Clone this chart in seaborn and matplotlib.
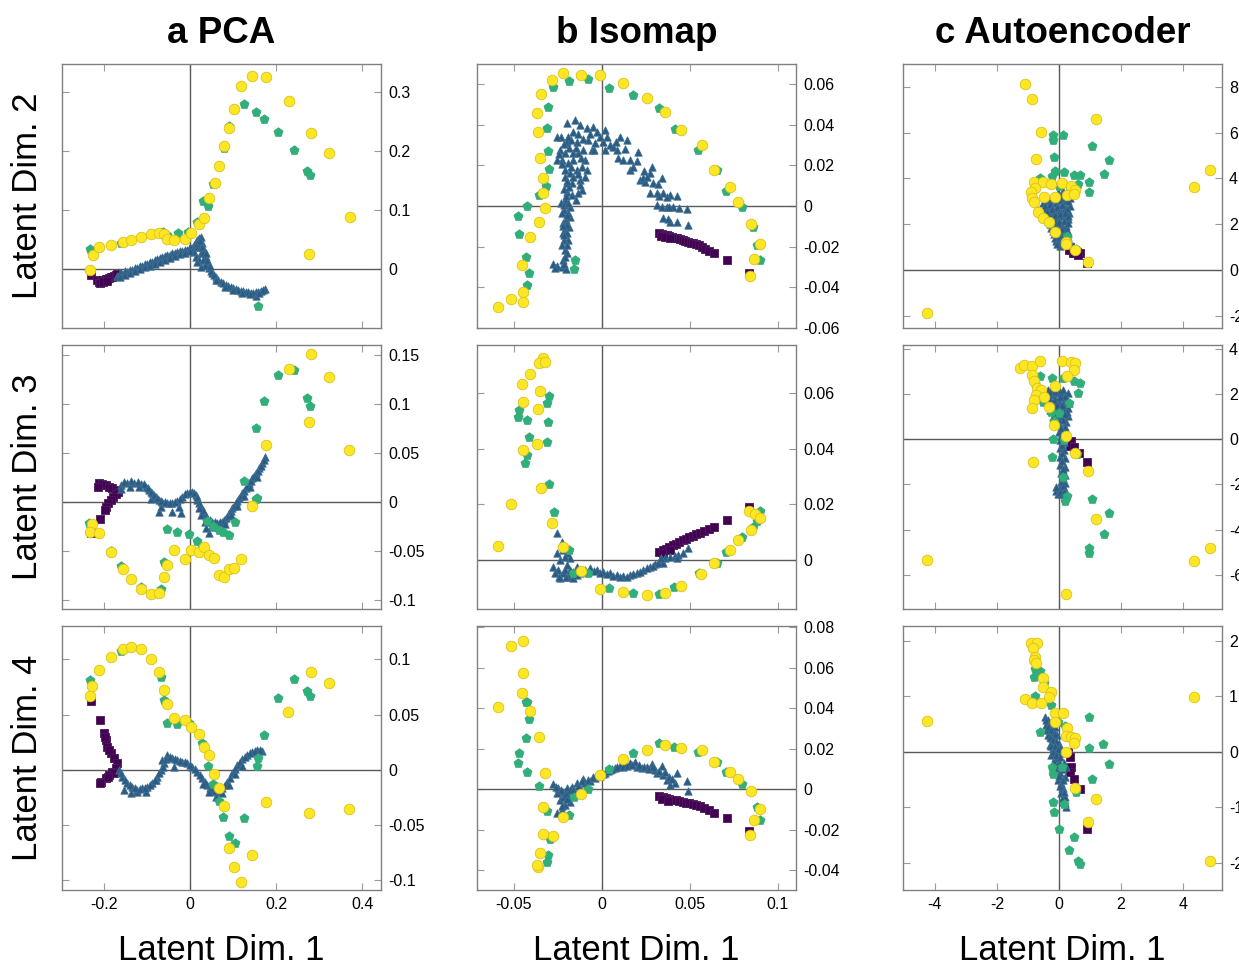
import matplotlib
matplotlib.use("Agg")
import matplotlib.pyplot as plt
import seaborn as sns
import pandas as pd
from matplotlib.ticker import FormatStrFormatter, FixedLocator

# ---------------- data (x, y) per panel and class ----------------
# classes: sq = purple squares, tri = blue triangles, pent = green pentagons, circ = yellow circles

# PCA, Latent Dim. 2
pca_d2_sq = [(-0.231,-0.0096),(-0.2155,-0.018),(-0.2116,-0.021),(-0.2078,-0.0198),(-0.2039,-0.018),(-0.2,-0.0192),
             (-0.1961,-0.017),(-0.1922,-0.0164),(-0.1884,-0.0153),(-0.1845,-0.0136),(-0.1806,-0.0124),(-0.1767,-0.0113),
             (-0.1729,-0.0096),(-0.169,-0.0079),(-0.2093,-0.0226),(-0.2016,-0.022),(-0.1938,-0.0203)]
pca_d2_tri = [(-0.169,-0.0113),(-0.1574,-0.0079),(-0.1457,-0.0045),(-0.1341,-0.0011),(-0.1225,0.0023),(-0.1109,0.0062),
              (-0.0992,0.0096),(-0.0876,0.013),(-0.076,0.0169),(-0.0643,0.0203),(-0.0527,0.0237),(-0.0411,0.0271),
              (-0.0295,0.0299),(-0.0178,0.0316),(-0.0062,0.0328),(0.0054,0.0356),(0.0093,0.0412),(0.0132,0.0469),
              (0.0171,0.0497),(0.0209,0.0525),(0.0248,0.0554),(0.0171,0.0384),(0.0093,0.0299),(0.0132,0.0215),
              (0.0209,0.0158),(0.0287,0.0441),(0.0326,0.0328),(0.0364,0.0215),(0.0403,0.0102),(0.0442,0.0017),
              (0.0519,-0.0068),(0.0597,-0.0136),(0.0713,-0.0209),(0.0829,-0.0266),(0.0946,-0.0305),(0.1062,-0.0339),
              (0.1178,-0.0362),(0.1295,-0.0384),(0.1411,-0.0395),(0.1527,-0.039),(0.1643,-0.0362),(0.1736,-0.0339),
              (0.0233,0.0384),(0.0264,0.0271),(0.031,0.0158),(0.0341,0.0073),(0.0248,0.0045),(0.0171,0.013),
              (0.1527,-0.0446)]
pca_d2_tri_b = [(-0.163,-0.0067),(-0.151,-0.0034),(-0.14,-0.0004),(-0.128,0.0028),(-0.117,0.0058),(-0.105,0.0091),
                (-0.093,0.0123),(-0.082,0.0153),(-0.07,0.0186),(-0.058,0.0218),(-0.047,0.0248),(-0.035,0.0281),
                (-0.024,0.0311),(-0.012,0.0334),(0.0,0.0372),(-0.163,-0.0127),(-0.151,-0.0094),(-0.14,-0.0064),
                (-0.128,-0.0032),(-0.117,-0.0002),(-0.105,0.0031),(-0.093,0.0063),(-0.082,0.0093),(-0.07,0.0126),
                (-0.058,0.0158),(-0.047,0.0188),(-0.035,0.0221),(-0.024,0.0251),(-0.012,0.0284),(0.0,0.0312),
                (0.048,-0.003),(0.0558,-0.0104),(0.0655,-0.0175),(0.077,-0.024),(0.0887,-0.0288),(0.1004,-0.0324),
                (0.112,-0.0352),(0.1237,-0.0375),(0.1353,-0.0392),(0.147,-0.0395),(0.1585,-0.0378),(0.169,-0.035),
                (0.06,-0.0175),(0.08,-0.0295),(0.1,-0.0355),(0.12,-0.04),(0.14,-0.042),(0.16,-0.041),
                (0.015,0.044),(0.022,0.048),(0.028,0.038),(0.03,0.028),(0.036,0.028),(0.039,0.016),(0.046,0.006)]
pca_d2_pent = [(-0.233,0.034),(-0.161,0.044),(-0.064,0.063),(-0.054,0.058),(-0.029,0.061),(-0.004,0.064),(0.017,0.081),
               (0.029,0.116),(0.041,0.108),(0.054,0.144),(0.078,0.206),(0.091,0.243),(0.126,0.280),(0.154,0.267),
               (0.173,0.255),(0.205,0.233),(0.241,0.202),(0.273,0.167),(0.279,0.159),(0.157,-0.062)]
pca_d2_circ = [(-0.233,-0.001),(-0.227,0.024),(-0.212,0.037),(-0.183,0.041),(-0.157,0.046),(-0.138,0.049),(-0.114,0.054),
               (-0.091,0.059),(-0.072,0.062),(-0.060,0.059),(-0.053,0.052),(-0.037,0.050),(-0.012,0.051),(0.002,0.061),
               (0.020,0.077),(0.033,0.087),(0.044,0.121),(0.057,0.147),(0.067,0.175),(0.078,0.209),(0.091,0.239),
               (0.102,0.271),(0.119,0.310),(0.145,0.328),(0.177,0.326),(0.229,0.286),(0.281,0.231),(0.324,0.197),
               (0.371,0.089),(0.277,0.026)]

# PCA, Latent Dim. 3
pca_d3_sq = [(-0.2116,0.0201),(-0.2039,0.0187),(-0.1961,0.0173),(-0.1884,0.016),(-0.1806,0.0143),(-0.1729,0.0126),
             (-0.1674,0.0109),(-0.1729,0.0085),(-0.1783,0.0058),(-0.1845,0.0024),(-0.1899,-0.001),(-0.1946,-0.0044),
             (-0.1984,-0.0078),(-0.2101,-0.017),(-0.231,-0.031),(-0.214,0.016)]
pca_d3_tri = [(-0.1612,0.0177),(-0.1457,0.0194),(-0.1302,0.0201),(-0.1147,0.0187),(-0.1031,0.016),(-0.0953,0.0126),
              (-0.0876,0.0092),(-0.0798,0.0058),(-0.0721,0.0024),(-0.0643,0.0007),(-0.0527,-0.001),(-0.0411,-0.0003),
              (-0.0295,0.0014),(-0.0178,0.0058),(-0.0062,0.0092),(0.0054,0.0109),(0.0132,0.0075),(0.0171,0.0024),
              (0.0248,-0.0044),(0.0326,-0.0112),(0.0403,-0.0163),(0.0519,-0.0197),(0.0636,-0.0207),(0.0752,-0.0197),
              (0.0829,-0.0163),(0.0907,-0.0112),(0.0984,-0.0061),(0.1062,-0.001),(0.114,0.0041),(0.1217,0.0092),
              (0.1295,0.0143),(0.1372,0.0194),(0.145,0.0245),(0.1527,0.0296),(0.1605,0.0347),(0.1682,0.0405),
              (0.1736,0.0459),(-0.0915,0.0031),(-0.0721,-0.0095),(-0.0682,-0.0044),(-0.0411,-0.0095),(-0.0217,-0.0112),
              (-0.0256,-0.0044),(0.0364,-0.0265),(0.0442,-0.031),(0.0558,-0.0248),(0.0248,-0.0129)]
pca_d3_tri_b = [(-0.153,0.021),(-0.138,0.0215),(-0.122,0.0205),(-0.108,0.0185),(-0.099,0.015),(-0.091,0.011),
                (-0.084,0.0075),(-0.076,0.004),(-0.068,0.0018),(-0.058,0.0),(-0.047,-0.0005),(-0.035,0.0005),
                (-0.024,0.0035),(-0.012,0.008),(0.0,0.0105),(0.009,0.0095),(0.015,0.005),(0.021,-0.001),
                (0.029,-0.008),(0.036,-0.014),(0.046,-0.0185),(0.058,-0.0205),(0.069,-0.0205),(0.079,-0.018),
                (0.087,-0.014),(0.094,-0.0087),(0.102,-0.0035),(0.11,0.0015),(0.118,0.0066),(0.125,0.0117),
                (0.133,0.0168),(0.141,0.022),(0.149,0.027),(0.157,0.032),(0.164,0.0375),(0.171,0.043),
                (-0.16,0.014),(-0.14,0.016),(-0.12,0.016),(0.02,-0.006),(0.035,-0.02),(0.05,-0.024),(0.065,-0.025),
                (0.08,-0.022),(0.095,-0.013),(0.11,-0.004),(0.125,0.006),(0.14,0.016),(0.155,0.026)]
pca_d3_pent = [(0.2047,0.1303),(0.2411,0.135),(0.1721,0.1034),(0.2729,0.1061),(0.2791,0.0986),(0.1543,0.0762),
               (0.1248,0.0214),(0.1566,0.0048),(0.1543,0.0031),(-0.2341,-0.0214),(-0.1845,-0.0493),(-0.1612,-0.0646),
               (-0.1147,-0.0864),(-0.0682,-0.0888),(-0.0605,-0.0605),(-0.0535,-0.0269),(-0.0295,-0.0306),
               (-0.0023,-0.0327),(0.0171,-0.0398),(0.0287,-0.0452),(0.0403,-0.019),(0.0543,-0.0238),(0.0667,-0.0282),
               (0.0767,-0.0299),(0.0907,-0.0333),(0.1047,-0.0204)]
pca_d3_circ = [(0.2806,0.151),(0.2295,0.1364),(0.324,0.1276),(0.2767,0.0816),(0.1767,0.0582),(0.3705,0.0534),
               (0.145,-0.0034),(-0.2271,-0.0221),(-0.2326,-0.0299),(-0.2116,-0.0316),(-0.183,-0.051),(-0.1558,-0.0684),
               (-0.138,-0.0782),(-0.114,-0.0888),(-0.0907,-0.0935),(-0.0713,-0.0929),(-0.0605,-0.0759),
               (-0.0527,-0.0636),(-0.0372,-0.049),(-0.0124,-0.0578),(0.0016,-0.0483),(0.0209,-0.0503),(0.0333,-0.0459),
               (0.0434,-0.0537),(0.0558,-0.0571),(0.0667,-0.0745),(0.0791,-0.0765),(0.0907,-0.0684),(0.1023,-0.0673),
               (0.1186,-0.0578)]

# PCA, Latent Dim. 4
pca_d4_sq = [(-0.231,0.0624),(-0.2101,0.0452),(-0.2,0.0332),(-0.1961,0.0271),(-0.1922,0.0211),(-0.1845,0.0151),
             (-0.1767,0.0106),(-0.169,0.006),(-0.1729,0.0015),(-0.1806,-0.0015),(-0.1884,-0.0045),(-0.1961,-0.0075),
             (-0.2062,-0.0106),(-0.2101,-0.0121),(-0.198,0.030),(-0.188,0.018),(-0.178,-0.003),(-0.192,-0.006)]
pca_d4_tri = [(-0.1651,0.0),(-0.1574,-0.006),(-0.1457,-0.0121),(-0.1341,-0.0151),(-0.1225,-0.0181),(-0.1109,-0.0166),
              (-0.0992,-0.0151),(-0.0876,-0.0121),(-0.076,-0.006),(-0.0682,0.0),(-0.0605,0.006),(-0.0527,0.0136),
              (-0.0411,0.0106),(-0.0295,0.009),(-0.0178,0.0075),(-0.0062,0.006),(0.0054,0.003),(0.0171,-0.0015),
              (0.0287,-0.0075),(0.0403,-0.0136),(0.0519,-0.0181),(0.0636,-0.0196),(0.0752,-0.0166),(0.0868,-0.0106),
              (0.0984,-0.003),(0.1101,0.0045),(0.1217,0.0097),(0.1333,0.0136),(0.145,0.0166),(0.1566,0.0181),
              (0.1682,0.0175),(-0.1535,-0.0181),(-0.138,-0.0211),(-0.1225,-0.0196),(-0.1031,-0.0196),(-0.0798,-0.009),
              (-0.0643,0.009),(-0.0372,0.003)]
pca_d4_tri_b = [(-0.161,-0.003),(-0.151,-0.009),(-0.14,-0.0135),(-0.128,-0.0166),(-0.117,-0.0175),(-0.105,-0.016),
                (-0.093,-0.0135),(-0.082,-0.009),(-0.072,-0.003),(-0.064,0.003),(-0.057,0.01),(-0.047,0.012),
                (-0.035,0.0098),(-0.024,0.0083),(-0.012,0.0068),(0.0,0.0045),(0.011,0.0008),(0.023,-0.0045),
                (0.035,-0.0105),(0.046,-0.016),(0.058,-0.019),(0.07,-0.0185),(0.081,-0.0136),(0.093,-0.0068),
                (0.104,0.0008),(0.116,0.0072),(0.127,0.0118),(0.139,0.0152),(0.151,0.0175),(0.162,0.018),
                (0.03,-0.013),(0.045,-0.02),(0.06,-0.024),(0.075,-0.021),(0.09,-0.014),(0.105,-0.004),(0.12,0.004)]
pca_d4_pent = [(-0.2333,0.0814),(-0.1612,0.1077),(-0.0667,0.0845),(-0.0605,0.0633),(-0.0535,0.0428),(-0.0295,0.0419),
               (-0.0023,0.0422),(0.0279,0.0241),(0.0411,0.0039),(0.0543,-0.0127),(0.0667,-0.0284),(0.0775,-0.0425),
               (0.0907,-0.06),(0.1047,-0.0658),(0.1256,-0.0434),(0.1721,0.0317),(0.1574,0.0112),(0.155,0.0036),
               (0.2047,0.0655),(0.2411,0.0827),(0.2729,0.0712),(0.2791,0.0667)]
pca_d4_circ = [(-0.2326,0.067),(-0.2271,0.076),(-0.2116,0.0905),(-0.183,0.102),(-0.1558,0.1092),(-0.138,0.111),
               (-0.114,0.1092),(-0.0907,0.1005),(-0.0713,0.089),(-0.0605,0.0724),(-0.0527,0.0594),(-0.0372,0.0468),
               (-0.0124,0.0456),(0.0016,0.0386),(0.0202,0.0329),(0.0333,0.0211),(0.0442,0.0139),(0.0558,-0.0033),
               (0.0667,-0.016),(0.0791,-0.0329),(0.0907,-0.0706),(0.1016,-0.0881),(0.1186,-0.1017),(0.145,-0.0772),
               (0.1767,-0.0293),(0.2287,0.0528),(0.2814,0.0887),(0.324,0.0787),(0.2767,-0.0389),(0.3705,-0.0353)]

# Isomap, Latent Dim. 2
iso_d2_sq = [(0.0328,-0.0131),(0.0341,-0.0138),(0.0356,-0.0141),(0.0369,-0.0144),(0.0384,-0.0147),(0.0400,-0.0151),
             (0.0415,-0.0156),(0.043,-0.0159),(0.0445,-0.0162),(0.046,-0.0167),(0.0475,-0.0172),(0.0491,-0.0175),
             (0.0506,-0.018),(0.0521,-0.0183),(0.0536,-0.0188),(0.0551,-0.0193),(0.057,-0.0203),(0.0589,-0.0213),
             (0.0612,-0.0221),(0.064,-0.0229),(0.071,-0.0265),(0.0839,-0.0328),(0.0335,-0.0147),(0.036,-0.0152),
             (0.0388,-0.0159)]
iso_d2_tri = [(-0.0275,-0.0285),(-0.0252,-0.0295),(-0.0227,-0.0301),(-0.0203,-0.0311),(-0.0218,-0.0265),(-0.0208,-0.0216),
              (-0.0212,-0.0167),(-0.0208,-0.0118),(-0.0205,-0.0069),(-0.0212,-0.002),(-0.0227,-0.0036),(-0.0233,0.0013),
              (-0.0208,0.0029),(-0.0199,0.007),(-0.0199,0.0111),(-0.018,0.0161),(-0.0189,0.021),(-0.0161,0.0226),
              (-0.0142,0.0177),(-0.0123,0.0128),(-0.0114,0.0079),(-0.0133,0.0062),(-0.0146,0.0029),(-0.017,0.0054),
              (-0.018,-0.0003),(-0.018,-0.0052),(-0.0184,-0.0102),(-0.0189,-0.0167),(-0.0195,-0.0233),(-0.0237,0.0275),
              (-0.0208,0.0259),(-0.0199,0.0316),(-0.0233,0.0341),(-0.0252,0.0341),(-0.0199,0.0406),(-0.0161,0.0365),
              (-0.0123,0.0398),(-0.0085,0.0382),(-0.0142,0.0316),(-0.0104,0.0275),(-0.0095,0.0226),(-0.0076,0.0324),
              (-0.0047,0.039),(-0.0038,0.0308),(-0.0009,0.0341),(-0.0057,0.0275),(-0.0085,0.0177),(-0.0095,0.0144),
              (-0.0114,0.0193),(-0.0256,0.0226),(-0.0227,0.0226),(0.0019,0.0373),(0.0009,0.0316),(0.0019,0.0275),
              (0.0047,0.03),(0.0066,0.0288),(0.0104,0.0337),(0.0142,0.0324),(0.0095,0.0234),(0.0123,0.0226),
              (0.0161,0.0177),(0.018,0.0193),(0.0208,0.0267),(0.0218,0.0128),(0.0237,0.0136),(0.0275,0.0161),
              (0.0284,0.0193),(0.0246,0.012),(0.0275,0.0062),(0.0313,0.0066),(0.0341,0.0136),(0.035,0.0062),
              (0.0388,0.0054),(0.043,0.0049),(0.0313,0.0005),(0.0341,-0.0003),(0.0369,-0.0003),(0.0407,-0.0003),
              (0.0483,-0.0016),(0.035,-0.0061),(0.0388,-0.0077),(0.0426,-0.0077),(0.0492,-0.0093),
              (-0.0222,-0.0134),(-0.0195,-0.0134),(-0.0218,-0.0085),(-0.0189,-0.0036),(-0.0208,0.0144),(-0.017,0.0111),
              (-0.0161,0.0259),(-0.0133,0.0259),(-0.0189,0.0341),(-0.0152,0.0423)]
iso_d2_tri_b = [(-0.0265,-0.0305),(-0.0215,-0.0285),(-0.021,-0.025),(-0.0225,-0.019),(-0.0195,-0.019),(-0.0215,-0.0145),
                (-0.0195,-0.0095),(-0.022,-0.01),(-0.0195,-0.0045),(-0.0215,0.0005),(-0.019,0.0015),(-0.0205,0.005),
                (-0.0215,0.0085),(-0.0185,0.0095),(-0.0195,0.0125),(-0.016,0.014),(-0.021,0.0175),(-0.0175,0.019),
                (-0.0135,0.0155),(-0.0125,0.0105),(-0.0225,0.0205),(-0.0245,0.0255),(-0.0185,0.0285),(-0.0145,0.0285),
                (-0.0115,0.0235),(-0.0175,0.0325),(-0.0215,0.0305),(-0.0135,0.0355),(-0.0105,0.033),(-0.0065,0.0355),
                (-0.0025,0.0365),(-0.0045,0.0275),(0.003,0.034),(0.008,0.0315),(0.0085,0.0275),(0.013,0.028),
                (0.016,0.0225),(0.02,0.022),(0.024,0.017),(0.0255,0.014),(0.029,0.0115),(0.032,0.011),(0.0325,0.005),
                (0.037,0.0045),(0.0385,-0.0005),(0.044,-0.0008),(0.0375,-0.0065)]
iso_d2_pent = [(-0.0477,-0.0051),(-0.0426,0.0),(-0.047,-0.0138),(-0.043,-0.0249),(-0.0415,-0.0331),(-0.0426,-0.0388),
               (-0.0358,0.0056),(-0.0314,0.01),(-0.0299,0.0183),(-0.0307,0.0272),(-0.0313,0.0383),(-0.0303,0.0485),
               (-0.0275,0.0583),(-0.0186,0.0616),(-0.0078,0.0626),(0.0044,0.058),(0.018,0.0545),(0.0326,0.048),
               (0.0415,0.0377),(0.0547,0.0275),(0.0653,0.0177),(0.0706,0.0075),(0.0795,-0.0005),(0.0858,-0.0102),
               (0.0881,-0.0193),(0.09,-0.0265),(-0.0152,-0.0267),(-0.0157,-0.0308)]
iso_d2_circ = [(-0.0589,-0.0498),(-0.0513,-0.0457),(-0.0445,-0.0421),(-0.0445,-0.0473),(-0.0453,-0.029),(-0.0405,-0.0151),
               (-0.0354,-0.0079),(-0.0324,-0.0011),(-0.0333,0.0062),(-0.0331,0.0139),(-0.0352,0.0234),(-0.0364,0.0364),
               (-0.0369,0.0455),(-0.0345,0.055),(-0.028,0.0618),(-0.0218,0.0652),(-0.0117,0.0645),(-0.0011,0.0644),
               (0.0123,0.0603),(0.0256,0.0529),(0.0362,0.0464),(0.0449,0.0373),(0.0568,0.03),(0.0636,0.0177),
               (0.0731,0.0095),(0.0773,0.0018),(0.085,-0.009),(0.09,-0.0188),(0.0867,-0.0262),(0.0843,-0.0344)]

# Isomap, Latent Dim. 3
iso_d3_sq = [(0.0328,0.0029),(0.0347,0.0034),(0.0366,0.004),(0.0384,0.0046),(0.0403,0.0052),(0.0422,0.0058),
             (0.0441,0.0064),(0.046,0.007),(0.0479,0.0076),(0.0498,0.0082),(0.0517,0.0087),(0.0536,0.0092),
             (0.0559,0.0096),(0.0583,0.0104),(0.0612,0.0111),(0.064,0.0118),(0.071,0.0142),(0.0839,0.019),
             (0.035,0.0024),(0.0388,0.0036)]
iso_d3_tri = [(-0.0252,0.0096),(-0.0227,0.0066),(-0.0218,0.0036),(-0.0199,0.0024),(-0.018,0.0006),(-0.0275,-0.0024),
              (-0.0246,-0.0036),(-0.0218,-0.0048),(-0.0189,-0.006),(-0.0161,-0.0066),(-0.0123,-0.0048),(-0.0095,-0.0036),
              (-0.0237,0.0),(-0.0199,-0.0018),(-0.0142,-0.0024),(-0.0066,-0.003),(-0.0028,-0.0036),(0.0009,-0.0042),
              (0.0047,-0.0048),(0.0085,-0.0054),(0.0123,-0.0058),(0.0161,-0.0054),(0.0199,-0.0046),(0.0237,-0.0036),
              (0.0275,-0.0024),(0.0303,-0.0014),(0.0331,0.0),(0.036,0.0006),(0.0388,0.0012),(0.0417,0.0014),
              (0.0436,0.0018),(0.0464,0.0024),(0.0492,0.0042),(0.0426,0.0006),(0.035,-0.0012),(-0.0265,-0.0048),
              (-0.0237,-0.0066),(-0.0208,-0.0036),(-0.018,-0.0036),(-0.0152,-0.0042),(-0.0256,0.0024),(-0.0208,0.0012)]
iso_d3_tri_b = [(-0.0245,-0.006),(-0.0205,-0.0062),(-0.0175,-0.0052),(-0.014,-0.0055),(-0.011,-0.004),(-0.008,-0.0045),
                (-0.0045,-0.004),(-0.001,-0.0048),(0.003,-0.0052),(0.0065,-0.0058),(0.0105,-0.0062),(0.0145,-0.006),
                (0.018,-0.0052),(0.022,-0.0044),(0.0255,-0.003),(0.029,-0.0022),(0.032,-0.001),(0.034,0.0008)]
iso_d3_pent = [(-0.0297,0.059),(-0.0313,0.0564),(-0.0468,0.0539),(-0.0477,0.0515),(-0.0426,0.0504),(-0.0305,0.0498),
               (-0.0415,0.0444),(-0.0313,0.0426),(-0.0422,0.0377),(-0.0434,0.035),(-0.0301,0.0274),(-0.0273,0.0171),
               (-0.0188,0.0036),(-0.0161,-0.0048),(-0.008,-0.0046),(0.0044,-0.0102),(0.018,-0.0121),(0.0324,-0.0123),
               (0.0413,-0.0096),(0.0551,-0.0048),(0.0653,-0.001),(0.0706,0.003),(0.0795,0.0082),(0.0858,0.0118),
               (0.0881,0.0141),(0.09,0.0175)]
iso_d3_circ = [(-0.0335,0.0727),(-0.0354,0.0709),(-0.0322,0.0711),(-0.0405,0.0668),(-0.0453,0.0634),(-0.0352,0.061),
               (-0.0445,0.0568),(-0.0364,0.0542),(-0.0369,0.0418),(-0.0447,0.0394),(-0.0347,0.026),(-0.0513,0.0203),
               (-0.0587,0.0051),(-0.028,0.0134),(-0.0218,0.0046),(-0.0117,-0.0039),(-0.0011,-0.0105),(0.0123,-0.0115),
               (0.0256,-0.0127),(0.0362,-0.0121),(0.0449,-0.0094),(0.0566,-0.0052),(0.0636,-0.001),(0.0731,0.0036),
               (0.0773,0.0072),(0.0848,0.0106),(0.0839,0.0176),(0.0869,0.0165),(0.09,0.0151)]

# Isomap, Latent Dim. 4
iso_d4_sq = [(0.0328,-0.0033),(0.0347,-0.004),(0.0366,-0.0044),(0.0384,-0.0048),(0.0403,-0.0051),(0.0422,-0.0054),
             (0.0441,-0.0058),(0.046,-0.0061),(0.0479,-0.0066),(0.0498,-0.0069),(0.0517,-0.0074),(0.0536,-0.0077),
             (0.0559,-0.0084),(0.0583,-0.0091),(0.0612,-0.01),(0.064,-0.0115),(0.071,-0.0142),(0.0839,-0.0207),
             (0.0341,-0.0049),(0.0379,-0.0056)]
iso_d4_tri = [(-0.0275,0.0026),(-0.0246,0.0005),(-0.0218,-0.0012),(-0.0189,-0.0028),(-0.0237,-0.0053),(-0.0208,-0.0077),
              (-0.0252,-0.0115),(-0.0227,-0.0102),(-0.018,-0.0061),(-0.0152,-0.002),(-0.0123,0.0005),(-0.0095,0.003),
              (-0.0066,0.0043),(-0.0038,0.0054),(-0.0009,0.0066),(0.0019,0.0082),(0.0047,0.0095),(0.0076,0.0107),
              (0.0104,0.0115),(0.0133,0.012),(0.0161,0.0128),(0.0189,0.0137),(0.0199,0.0112),(0.0227,0.0104),
              (0.0256,0.0112),(0.0284,0.0125),(0.0303,0.0095),(0.0313,0.0079),(0.0341,0.0115),(0.035,0.0071),
              (0.0369,0.0046),(0.0388,0.0021),(0.0417,0.003),(0.043,0.0079),(0.0483,0.0041),(0.0492,-0.0007),
              (-0.0142,0.003),(-0.0104,0.0049),(-0.017,0.0013),(-0.0199,0.0005),(-0.0256,-0.002),(-0.0218,-0.0036),
              (-0.018,-0.0003)]
iso_d4_tri_b = [(-0.026,0.001),(-0.023,-0.0005),(-0.0205,-0.0025),(-0.0225,-0.008),(-0.0195,-0.005),(-0.016,-0.0005),
                (-0.0135,0.0015),(-0.011,0.004),(-0.008,0.0048),(-0.005,0.006),(-0.002,0.0072),(0.0005,0.0075),
                (0.0035,0.0088),(0.006,0.01),(0.009,0.0108),(0.012,0.0112),(0.0145,0.0115),(0.0175,0.012),
                (0.021,0.0118),(0.024,0.011),(0.027,0.0102),(0.029,0.011),(0.0325,0.009),(0.036,0.0085),
                (0.038,0.006),(0.04,0.005)]
iso_d4_pent = [(-0.0432,0.043),(-0.0422,0.043),(-0.0415,0.0349),(-0.043,0.0255),(-0.047,0.0178),(-0.0477,0.0132),
               (-0.0426,0.0084),(-0.0356,0.0018),(-0.0313,-0.0107),(-0.0294,-0.0244),(-0.0303,-0.0324),(-0.0313,-0.036),
               (-0.0188,-0.0127),(-0.0155,-0.004),(-0.008,0.0),(0.0044,0.01),(0.018,0.0181),(0.0324,0.0227),
               (0.0413,0.0207),(0.0547,0.0186),(0.0653,0.0137),(0.0706,0.0086),(0.0795,0.0025),(0.0881,-0.0086),
               (0.09,-0.0151)]
iso_d4_circ = [(-0.0445,0.0734),(-0.0513,0.0708),(-0.0445,0.0576),(-0.0453,0.0476),(-0.0589,0.0407),(-0.0405,0.0387),
               (-0.0354,0.0258),(-0.0324,0.0079),(-0.0333,-0.0087),(-0.0331,-0.0219),(-0.0278,-0.0232),(-0.0352,-0.0316),
               (-0.0364,-0.0385),(-0.0369,-0.0374),(-0.0218,-0.0138),(-0.0117,-0.0025),(-0.0011,0.0071),(0.0123,0.0148),
               (0.0256,0.0194),(0.0362,0.0219),(0.0449,0.0202),(0.0568,0.0194),(0.0636,0.0137),(0.0731,0.0087),
               (0.0773,0.0049),(0.085,-0.0007),(0.09,-0.0099),(0.0867,-0.0151),(0.0843,-0.0226)]

# Autoencoder, Latent Dim. 2
ae_d2_sq = [(0.183,1.217),(0.258,1.116),(0.344,1.014),(0.43,0.928),(0.505,0.855),(0.581,0.783),(0.667,0.725),
            (0.323,0.87),(0.452,0.754),(0.613,0.667),(0.903,0.29)]
ae_d2_tri = [(-0.516,2.928),(-0.355,3.072),(-0.194,3.217),(-0.032,3.362),(0.129,3.435),(0.29,3.362),(0.366,3.145),
             (-0.409,2.71),(-0.247,2.783),(-0.086,2.928),(0.075,3.072),(0.237,3.0),(0.344,2.783),(-0.462,2.42),
             (-0.301,2.493),(-0.14,2.565),(0.022,2.638),(0.183,2.71),(0.323,2.493),(-0.355,2.13),(-0.194,2.203),
             (-0.032,2.275),(0.129,2.348),(0.29,2.203),(-0.247,1.841),(-0.086,1.913),(0.075,1.986),(0.237,1.913),
             (-0.172,1.551),(-0.011,1.623),(0.151,1.652),(0.29,1.623),(-0.108,1.261),(0.054,1.333),(0.215,1.333),
             (0.022,1.043),(0.183,1.116),(0.344,1.188),(0.452,1.043),(-0.301,3.0),(-0.14,2.348),(-0.409,2.348)]
ae_d2_tri_b = [(-0.45,2.8),(-0.28,2.9),(-0.12,3.1),(0.05,3.25),(0.2,3.2),(0.3,3.0),(-0.4,2.55),(-0.22,2.65),
               (-0.06,2.75),(0.1,2.85),(0.26,2.65),(-0.3,2.3),(-0.12,2.4),(0.05,2.45),(0.2,2.5),(0.3,2.35),
               (-0.3,2.0),(-0.14,2.08),(0.0,2.1),(0.17,2.15),(0.28,2.05),(-0.2,1.7),(-0.05,1.75),(0.1,1.8),
               (0.25,1.75),(-0.14,1.4),(0.0,1.45),(0.14,1.5),(0.3,1.45),(-0.05,1.15),(0.1,1.2),(0.27,1.25),(0.38,1.1)]
ae_d2_pent = [(-0.194,5.899),(-0.183,5.681),(0.118,5.899),(1.054,5.42),(1.613,4.783),(-0.172,4.913),(-0.14,4.333),
              (0.151,4.29),(-0.237,4.087),(-0.602,4.029),(0.495,4.13),(0.677,4.13),(1.441,4.203),(0.968,3.855),
              (0.613,3.754),(0.978,3.42),(0.0,3.652),(0.344,3.58),(-0.667,2.565),(-0.28,1.986),(0.258,1.478),
              (-0.086,1.623),(0.538,0.928)]
ae_d2_circ = [(-1.086,8.116),(-0.882,7.464),(1.194,6.594),(-0.591,6.043),(-0.742,4.841),(-0.806,3.855),(-0.516,3.841),
              (-0.258,3.754),(0.108,3.783),(0.398,3.681),(0.505,3.507),(-0.774,3.565),(-0.914,3.42),(-0.86,3.159),
              (-0.817,2.971),(-0.495,3.188),(-0.129,3.188),(0.258,3.275),(0.473,3.333),(-0.688,2.536),(-0.505,2.261),
              (-0.333,2.087),(-0.14,1.667),(0.215,1.203),(0.237,1.116),(0.527,0.87),(0.946,0.348),(-4.269,-1.899),
              (4.355,3.638),(4.871,4.362)]

# Autoencoder, Latent Dim. 3
ae_d3_sq = [(0.398,-0.074),(0.366,-0.295),(0.473,-0.324),(0.645,-0.619),(0.914,-1.018)]
ae_d3_tri = [(-0.355,2.183),(-0.194,2.257),(-0.032,2.257),(0.129,2.183),(0.29,2.035),(-0.409,1.888),(-0.247,1.962),
             (-0.086,2.035),(0.075,1.962),(0.237,1.814),(0.323,1.593),(-0.355,1.593),(-0.194,1.667),(-0.032,1.74),
             (0.129,1.667),(0.29,1.372),(-0.301,1.298),(-0.14,1.372),(0.022,1.445),(0.183,1.298),(0.29,1.032),
             (-0.194,1.003),(-0.065,1.032),(0.108,1.003),(0.215,0.782),(-0.086,0.708),(0.043,0.634),(0.183,0.531),
             (0.0,0.339),(0.151,0.265),(0.022,-0.029),(0.172,-0.103),(0.022,-0.398),(0.151,-0.472),(0.043,-0.767),
             (0.183,-0.841),(0.043,-1.136),(0.183,-1.209),(0.054,-1.504),(0.194,-1.578),(0.054,-1.873),(0.194,-1.947),
             (0.022,-2.168),(0.183,-2.242),(-0.108,-2.271),(-0.032,-2.419),(0.108,-2.419),(0.237,-2.463),(-0.086,-2.094)]
ae_d3_tri_b = [(-0.3,2.1),(-0.12,2.15),(0.05,2.1),(0.2,1.9),(-0.3,1.75),(-0.12,1.8),(0.05,1.85),(0.22,1.6),
               (-0.25,1.45),(-0.07,1.5),(0.1,1.5),(0.25,1.2),(-0.12,1.2),(0.05,1.25),(0.18,1.1),(-0.02,0.85),
               (0.12,0.85),(0.08,0.5),(0.08,0.15),(0.1,-0.25),(0.1,-0.6),(0.11,-0.95),(0.12,-1.32),(0.12,-1.7),
               (0.12,-2.05),(0.05,-2.35),(0.16,-2.35)]
ae_d3_pent = [(-0.602,2.817),(-0.237,2.729),(0.14,2.699),(0.495,2.596),(0.677,2.507),(0.613,2.065),(0.323,1.593),
              (-0.785,2.434),(-0.516,1.667),(-0.269,1.224),(0.0,1.15),(-0.172,0.811),(-0.183,0.015),(0.172,-0.029),
              (-0.215,-0.767),(0.57,-0.649),(0.118,-1.652),(0.269,-2.493),(0.204,-2.729),(1.054,-2.655),(1.613,-3.274),
              (1.441,-4.204),(0.968,-4.823),(0.978,-5.044)]
ae_d3_circ = [(-1.269,3.142),(-1.118,3.289),(-0.871,3.245),(-0.613,3.466),(0.108,3.451),(0.387,3.422),(0.516,3.378),
              (0.473,3.083),(0.269,2.802),(-0.86,2.847),(-0.817,2.596),(-0.118,2.375),(-0.71,2.286),(-0.581,2.183),
              (-0.753,1.947),(-0.495,1.888),(-0.806,1.74),(-0.882,1.386),(-0.333,1.416),(-0.151,0.634),(0.237,0.147),
              (0.527,-0.619),(0.946,-1.401),(-0.849,-0.988),(1.194,-3.54),(-4.269,-5.339),(0.237,-6.844),
              (4.355,-5.369),(4.871,-4.794)]

# Autoencoder, Latent Dim. 4
ae_d4_sq = [(0.29,0.006),(0.366,-0.096),(0.398,-0.264),(0.366,-0.354),(0.473,-0.492),(0.667,-0.667),(0.903,-1.399)]
ae_d4_tri = [(-0.462,0.637),(-0.355,0.577),(-0.247,0.517),(-0.409,0.486),(-0.301,0.426),(-0.172,0.366),(-0.065,0.306),
             (-0.355,0.306),(-0.247,0.246),(-0.14,0.186),(0.0,0.144),(-0.301,0.126),(-0.194,0.066),(-0.086,0.006),
             (0.075,-0.024),(-0.247,-0.054),(-0.14,-0.114),(0.0,-0.174),(0.151,-0.204),(-0.194,-0.264),(-0.086,-0.324),
             (0.043,-0.384),(0.183,-0.444),(-0.032,-0.505),(0.075,-0.565),(0.129,-0.655),(0.075,-0.745),(0.183,-0.805),
             (0.129,-0.895),(0.237,-0.985),(-0.387,0.396),(-0.14,0.456),(0.022,0.066),(0.237,-0.264)]
ae_d4_tri_b = [(-0.42,0.58),(-0.3,0.52),(-0.36,0.44),(-0.24,0.4),(-0.12,0.33),(-0.3,0.26),(-0.19,0.22),(-0.08,0.2),
               (-0.25,0.1),(-0.14,0.1),(-0.03,0.06),(-0.2,-0.01),(-0.08,-0.05),(0.05,-0.1),(-0.16,-0.18),
               (-0.04,-0.24),(0.1,-0.3),(-0.14,-0.3),(0.0,-0.43),(0.12,-0.5),(0.02,-0.62),(0.15,-0.72),(0.1,-0.85),
               (0.2,-0.93)]
ae_d4_pent = [(-0.785,1.489),(-0.624,1.465),(-0.806,1.351),(-0.495,1.237),(-0.785,1.003),(-0.258,0.841),(-0.032,0.547),
              (0.204,0.468),(-0.602,0.366),(0.957,0.637),(0.968,0.066),(1.43,0.138),(1.613,-0.222),(1.054,-0.492),
              (0.559,-0.727),(-0.226,-0.27),(-0.194,-0.396),(0.108,-0.264),(-0.183,-0.895),(-0.151,-1.081),
              (0.151,-0.943),(0.011,-1.399),(0.495,-1.538),(0.333,-1.76),(0.602,-1.97),(0.667,-2.018)]
ae_d4_circ = [(-0.914,1.97),(-0.699,1.97),(-0.839,1.868),(-0.774,1.706),(-0.796,1.652),(-0.731,1.61),(-0.516,1.327),
              (-0.505,1.177),(-0.258,1.075),(-0.333,0.985),(-1.086,0.961),(-0.882,0.883),(-0.581,0.889),(-0.129,0.703),
              (0.118,0.703),(-0.14,0.547),(0.269,0.432),(0.215,0.288),(0.398,0.27),(0.516,0.252),(0.473,0.156),
              (0.237,-0.006),(0.527,-0.655),(1.194,-0.853),(0.946,-1.267),(-4.269,0.553),(4.355,0.991),(4.871,-1.97)]

col_titles = ["a PCA", "b Isomap", "c Autoencoder"]
row_labels = ["Latent Dim. 2", "Latent Dim. 3", "Latent Dim. 4"]
x_label = "Latent Dim. 1"

x_ticks = [[-0.2, 0, 0.2, 0.4], [-0.05, 0, 0.05, 0.1], [-4, -2, 0, 2, 4]]
y_ticks = [
    [[-0.1, 0, 0.1, 0.2, 0.3], [-0.06, -0.04, -0.02, 0, 0.02, 0.04, 0.06], [-2, 0, 2, 4, 6, 8]],
    [[-0.1, -0.05, 0, 0.05, 0.1, 0.15], [0, 0.02, 0.04, 0.06], [-6, -4, -2, 0, 2, 4]],
    [[-0.1, -0.05, 0, 0.05, 0.1], [-0.04, -0.02, 0, 0.02, 0.04, 0.06, 0.08], [-2, -1, 0, 1, 2]],
]

# ---------------- styling ----------------
sns.set_theme(style="white")
plt.rcParams["font.family"] = ["Liberation Sans", "DejaVu Sans"]
plt.rcParams["text.color"] = "black"

W, H = 1239, 964
fig = plt.figure(figsize=(W / 100, H / 100), dpi=100)

x_lims = [(-0.298, 0.444), (-0.0708, 0.1104), (-5.03, 5.26)]
y_lims = [
    [(-0.0995, 0.348), (-0.060, 0.0698), (-2.54, 9.0)],
    [(-0.1089, 0.1605), (-0.0177, 0.0774), (-7.51, 4.17)],
    [(-0.1086, 0.1303), (-0.0497, 0.0806), (-2.49, 2.27)],
]

panels = [
    [(pca_d2_sq, pca_d2_tri + pca_d2_tri_b, pca_d2_pent, pca_d2_circ),
     (iso_d2_sq, iso_d2_tri + iso_d2_tri_b, iso_d2_pent, iso_d2_circ),
     (ae_d2_sq, ae_d2_tri + ae_d2_tri_b, ae_d2_pent, ae_d2_circ)],
    [(pca_d3_sq, pca_d3_tri + pca_d3_tri_b, pca_d3_pent, pca_d3_circ),
     (iso_d3_sq, iso_d3_tri + iso_d3_tri_b, iso_d3_pent, iso_d3_circ),
     (ae_d3_sq, ae_d3_tri + ae_d3_tri_b, ae_d3_pent, ae_d3_circ)],
    [(pca_d4_sq, pca_d4_tri + pca_d4_tri_b, pca_d4_pent, pca_d4_circ),
     (iso_d4_sq, iso_d4_tri + iso_d4_tri_b, iso_d4_pent, iso_d4_circ),
     (ae_d4_sq, ae_d4_tri + ae_d4_tri_b, ae_d4_pent, ae_d4_circ)],
]

styles = [
    dict(marker="s", color="#440154", edgecolor="#4b1a5c", s=34),
    dict(marker="^", color="#2a5b82", edgecolor="#3f6f93", s=28),
    dict(marker="p", color="#2fb07a", edgecolor="#35a878", s=46),
    dict(marker="o", color="#fde725", edgecolor="#d9c21a", s=58),
]

col_left = [62, 477, 903]
row_top = [64, 345, 626]
aw, ah = 319, 264

for r in range(3):
    for c in range(3):
        l = col_left[c] / W
        b = 1 - (row_top[r] + ah) / H
        ax = fig.add_axes([l, b, aw / W, ah / H])
        ax.axhline(0, color="#5a5a5a", lw=1.0, zorder=1)
        ax.axvline(0, color="#5a5a5a", lw=1.0, zorder=1)
        for k, pts in enumerate(panels[r][c]):
            df = pd.DataFrame(pts, columns=["x", "y"])
            st = styles[k]
            sns.scatterplot(data=df, x="x", y="y", ax=ax, marker=st["marker"], color=st["color"],
                            edgecolor=st["edgecolor"], s=st["s"], linewidth=0.6, legend=False,
                            zorder=2 + k)
        ax.set_xlim(*x_lims[c])
        ax.set_ylim(*y_lims[r][c])
        ax.xaxis.set_major_locator(FixedLocator(x_ticks[c]))
        ax.yaxis.set_major_locator(FixedLocator(y_ticks[r][c]))
        ax.xaxis.set_major_formatter(FormatStrFormatter("%g"))
        ax.yaxis.set_major_formatter(FormatStrFormatter("%g"))
        ax.tick_params(direction="in", length=5, width=0.8, color="#9a9a9a", labelcolor="black",
                       labelsize=11.5, top=True, bottom=True, left=True, right=True,
                       labelleft=False, labelright=True, labelbottom=(r == 2), pad=5)
        ax.set_xlabel("")
        ax.set_ylabel("")
        for sp in ax.spines.values():
            sp.set_color("#808080")
            sp.set_linewidth(1.0)
            sp.set_visible(True)

for c in range(3):
    cx = (col_left[c] + aw / 2) / W
    fig.text(cx, 1 - 43 / H, col_titles[c], ha="center", va="baseline", fontsize=26.5,
             fontweight="bold", color="black")
    fig.text(cx, 1 - 950 / H, x_label, ha="center", va="center", fontsize=25, color="black")

for r in range(3):
    cy = 1 - (row_top[r] + ah / 2) / H
    fig.text(28 / W, cy, row_labels[r], ha="center", va="center", rotation=90, fontsize=25, color="black")

fig.savefig("out.png", dpi=100)
